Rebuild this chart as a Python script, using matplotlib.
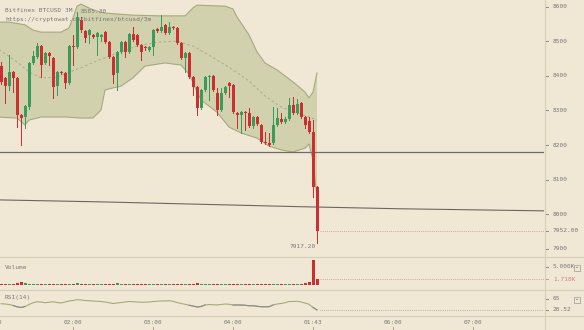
import numpy as np
import matplotlib
matplotlib.use("Agg")
import matplotlib.pyplot as plt
from matplotlib.transforms import blended_transform_factory
from matplotlib.patches import Rectangle

# ---- 3-minute BTCUSD candles (open, high, low, close) ----
opens = [8428, 8394, 8370, 8411, 8394, 8287, 8281, 8310, 8437, 8454,
         8486, 8437, 8466, 8451, 8370, 8411, 8408, 8379, 8486, 8483,
         8561, 8529, 8518, 8518, 8512, 8512, 8526, 8498, 8454, 8408,
         8469, 8498, 8469, 8521, 8518, 8489, 8483, 8474, 8483, 8535,
         8529, 8547, 8523, 8541, 8538, 8495, 8451, 8466, 8396, 8368,
         8307, 8359, 8396, 8399, 8350, 8301, 8350, 8379, 8373, 8293,
         8287, 8295, 8293, 8255, 8281, 8258, 8209, 8206, 8206, 8258,
         8275, 8267, 8275, 8316, 8293, 8321, 8281, 8269, 8238, 8079]
highs = [8440, 8397, 8460, 8414, 8397, 8290, 8316, 8440, 8471, 8495,
         8489, 8469, 8469, 8454, 8414, 8414, 8411, 8489, 8518, 8585.3,
         8570, 8532, 8535, 8521, 8526, 8521, 8529, 8501, 8457, 8472,
         8501, 8501, 8524, 8541, 8521, 8492, 8486, 8486, 8535, 8538,
         8575, 8550, 8555, 8544, 8541, 8498, 8469, 8469, 8399, 8370,
         8362, 8399, 8402, 8402, 8365, 8365, 8371, 8382, 8376, 8296,
         8298, 8298, 8307, 8284, 8284, 8261, 8238, 8235, 8310, 8307,
         8293, 8281, 8336, 8339, 8333, 8324, 8284, 8281, 8272, 8082]
lows = [8375, 8321, 8359, 8353, 8252, 8200, 8249, 8305, 8434, 8451,
        8396, 8434, 8431, 8336, 8345, 8405, 8365, 8376, 8431, 8480,
        8526, 8498, 8495, 8509, 8460, 8500, 8495, 8451, 8379, 8359,
        8466, 8454, 8466, 8500, 8486, 8446, 8474, 8471, 8460, 8526,
        8526, 8520, 8520, 8535, 8492, 8448, 8411, 8393, 8345, 8287,
        8304, 8356, 8330, 8356, 8287, 8298, 8347, 8339, 8292, 8249,
        8235, 8243, 8252, 8249, 8258, 8206, 8203, 8197, 8203, 8255,
        8264, 8264, 8272, 8290, 8290, 8278, 8249, 8235, 8050, 7917.2]
closes = [8382, 8370, 8411, 8394, 8287, 8278, 8313, 8437, 8457, 8486,
          8431, 8466, 8457, 8368, 8411, 8408, 8379, 8486, 8483, 8570,
          8532, 8509, 8532, 8512, 8523, 8518, 8498, 8454, 8402, 8469,
          8498, 8469, 8521, 8503, 8489, 8469, 8480, 8483, 8532, 8529,
          8541, 8523, 8541, 8538, 8495, 8451, 8466, 8396, 8368, 8307,
          8359, 8396, 8399, 8359, 8301, 8350, 8368, 8370, 8295, 8287,
          8295, 8293, 8255, 8281, 8261, 8209, 8206, 8200, 8258, 8278,
          8267, 8275, 8316, 8293, 8319, 8281, 8258, 8238, 8079, 7952]
volumes = [420, 380, 350, 450, 600, 900, 700, 400, 350, 380,
           420, 360, 330, 400, 380, 300, 350, 420, 380, 550,
           450, 380, 350, 320, 330, 300, 350, 400, 450, 600,
           380, 350, 360, 330, 300, 320, 300, 280, 350, 330,
           320, 300, 330, 300, 350, 420, 400, 380, 450, 500,
           420, 380, 350, 400, 450, 420, 380, 350, 400, 420,
           380, 400, 450, 420, 380, 400, 450, 430, 480, 420,
           380, 350, 400, 380, 420, 400, 600, 900, 6900, 1718]
rsi = [45, 44, 42, 38, 33, 30, 34, 42, 49, 53,
       52, 49, 51, 53, 50, 48, 52, 56, 58, 61,
       60, 58, 57, 56, 55, 54, 52, 49, 46, 48,
       50, 52, 54, 53, 52, 51, 51, 52, 54, 55,
       56, 56, 57, 55, 50, 46, 43, 39, 36, 32,
       34, 40, 42, 41, 40, 42, 44, 43, 40, 40,
       40, 39, 37, 37, 35, 33, 33, 33, 40, 44,
       46, 49, 54, 54, 55, 52, 48, 43, 30, 20.52]

# ---- Bollinger band readings (candle index, price) ----
bb_upper_idx = [-1, 2, 6, 8, 10, 15, 17, 18, 19, 20, 23, 26, 33, 40, 46, 48, 49,
                56, 58, 59, 62, 64, 66, 69, 72, 74, 76, 77, 78, 79]
bb_upper = [8555, 8555, 8547, 8532, 8526, 8526, 8538, 8567, 8601, 8607, 8590,
            8581, 8575, 8573, 8573, 8596, 8604, 8601, 8593, 8570, 8518, 8469,
            8437, 8417, 8391, 8373, 8353, 8336, 8353, 8408]
bb_mid_idx = [-1, 4, 7, 10, 14, 19, 24, 29, 34, 39, 44, 48, 51, 54, 58, 62, 66,
              70, 74, 77, 79]
bb_mid = [8480, 8440, 8411, 8394, 8396, 8419, 8443, 8466, 8486, 8497, 8500,
          8486, 8466, 8446, 8417, 8385, 8342, 8310, 8293, 8281, 8272]
bb_lower_idx = [-1, 4, 6, 7, 10, 16, 20, 23, 25, 26, 28, 30, 33, 36, 41, 45, 47,
                50, 54, 57, 60, 64, 67, 70, 73, 76, 77, 78, 79]
bb_lower = [8281, 8278, 8258, 8272, 8281, 8281, 8278, 8278, 8301, 8359, 8365,
            8370, 8394, 8428, 8437, 8431, 8405, 8330, 8295, 8252, 8235, 8220,
            8197, 8186, 8180, 8191, 8203, 8157, 8047]

# long moving average and a horizontal level
ma_idx = [-2, 25, 50, 75, 100, 136]
ma_vals = [8042, 8036, 8029, 8022, 8016, 8010]
level_price = 8181

price_ticks = [8600, 8500, 8400, 8300, 8200, 8100, 8000, 7900]
last_price = 7952.00
high_label, high_idx = 8585.30, 19
low_label, low_idx = 7917.20, 79
vol_ticks = [5000]
last_volume = 1718
rsi_ticks = [65]
time_idx = [-2, 18, 38, 58, 78, 98, 118]
time_labels = ["01:00", "02:00", "03:00", "04:00", "01:43", "06:00", "07:00"]

# ---- figure layout in pixels ----
W, H = 584, 330
fig = plt.figure(figsize=(W / 100, H / 100), dpi=100)
bg = "#f0e8d5"
fig.patch.set_facecolor(bg)
RED, GREEN = "#cc2f2f", "#3c9a5b"
TXT = "#777777"
FONT = dict(family="DejaVu Sans Mono", fontsize=4.4, color=TXT)


def px_axes(x0, y0, x1, y1):
    a = fig.add_axes([x0 / W, 1 - y1 / H, (x1 - x0) / W, (y1 - y0) / H])
    a.set_facecolor(bg)
    for s in a.spines.values():
        s.set_visible(False)
    a.set_xticks([])
    a.set_yticks([])
    a.set_xlim(-0.25, 135.75)
    return a


ax = px_axes(0, 0, 544, 256)
axv = px_axes(0, 257, 544, 289)
axr = px_axes(0, 290, 544, 315)

ax.set_ylim(7879.7, 8618.8)
axv.set_ylim(-1010, 7726)
axr.set_ylim(0, 100)

idx = np.arange(len(closes))
o, h, l, c = map(np.array, (opens, highs, lows, closes))
up = c >= o
cols = np.where(up, GREEN, RED)

# Bollinger band
poly_x = list(bb_upper_idx) + list(bb_lower_idx[::-1])
poly_y = list(bb_upper) + list(bb_lower[::-1])
ax.fill(poly_x, poly_y, color="#d1d1ae", lw=0, zorder=1)
ax.plot(bb_upper_idx, bb_upper, color="#a5a97f", lw=0.8, zorder=2)
ax.plot(bb_lower_idx, bb_lower, color="#a5a97f", lw=0.8, zorder=2)
ax.plot(bb_mid_idx, bb_mid, color="#a9ab8a", lw=0.7, ls=(0, (2.5, 2.5)), zorder=2)

# levels
ax.axhline(level_price, color="#6c6c6c", lw=0.9, zorder=2)
ax.plot(ma_idx, ma_vals, color="#6e6464", lw=0.8, zorder=2)
ax.plot([79.75, 135.75], [last_price, last_price], color="#e39a9a", lw=0.7,
        ls=(0, (1, 1.2)), zorder=2)

# candles: crisp 1px wicks and 3px bodies
ax.vlines(idx, l, h, colors=cols, lw=0.72, zorder=3, antialiased=False)
body_lo = np.minimum(o, c)
body_h = np.maximum(np.abs(c - o), 2.5)
ax.bar(idx, body_h, bottom=body_lo, width=0.75, color=cols, lw=0, zorder=4,
       antialiased=False)

# high / low markers
ax.text(high_idx + 1.0, high_label, f"{high_label:.2f}", ha="left", va="center",
        zorder=5, **FONT)
ax.text(low_idx - 0.2, low_label - 3, f"{low_label:.2f}", ha="right", va="top",
        zorder=5, **FONT)

# header
fig.text(5 / W, 1 - 10 / H, "Bitfinex BTCUSD 3M", ha="left", va="center", **FONT)
fig.text(5 / W, 1 - 20 / H, "https://cryptowat.ch/bitfinex/btcusd/3m", ha="left",
         va="center", **FONT)

# volume
axv.bar(idx, volumes, width=0.75, color=cols, lw=0, antialiased=False)
axv.plot([79.75, 135.75], [last_volume, last_volume], color="#e39a9a", lw=0.7,
         ls=(0, (1, 1.2)))
axv.text(5 / 544, 0.66, "Volume", transform=axv.transAxes, ha="left",
         va="center", **FONT)

# RSI
r = np.array(rsi, dtype=float)
axr.plot(idx, r, color="#a3ab73", lw=0.8)
low_r = np.where(r < 40.5, r, np.nan)
axr.plot(idx, low_r, color="#8c8c8c", lw=0.8)
axr.plot([79.75, 135.75], [rsi[-1], rsi[-1]], color="#a8a890", lw=0.6,
         ls=(0, (1, 1.2)))
axr.text(5 / 544, 0.68, "RSI(14)", transform=axr.transAxes, ha="left",
         va="center", **FONT)


# right-hand scales
def scale_labels(a, values, texts, colors=None):
    tr = blended_transform_factory(fig.transFigure, a.transData)
    for i, (v, t) in enumerate(zip(values, texts)):
        col = colors[i] if colors else TXT
        a.plot([545 / W, 548 / W], [v, v], transform=tr, color=col, lw=0.6,
               clip_on=False)
        a.text(553 / W, v, t, transform=tr, ha="left", va="center",
               clip_on=False, **{**FONT, "color": col})


scale_labels(ax, price_ticks + [last_price],
             [str(p) for p in price_ticks] + [f"{last_price:.2f}"])
scale_labels(axv, vol_ticks + [last_volume],
             [f"{v / 1000:.3f}K" for v in vol_ticks + [last_volume]],
             [TXT, "#d08080"])
scale_labels(axr, rsi_ticks + [rsi[-1]],
             [str(v) for v in rsi_ticks] + [f"{rsi[-1]:.2f}"])

# panel separators and scale border
for yy in (256.5, 289.5, 315.5):
    fig.add_artist(plt.Line2D([0, 1], [1 - yy / H] * 2, color="#d6cdb9", lw=0.8))
fig.add_artist(plt.Line2D([544.5 / W] * 2, [0, 1], color="#d6cdb9", lw=0.8))

# panel buttons
for yc in (267.5, 299.5):
    fig.add_artist(Rectangle((573.5 / W, 1 - (yc + 3) / H), 6 / W, 6 / H,
                             fill=False, ec="#9a9a9a", lw=0.5))
    fig.add_artist(Rectangle((575.7 / W, 1 - (yc + 0.9) / H), 1.8 / W, 1.8 / H,
                             fill=True, color="#9a9a9a", lw=0))

# time axis
trt = blended_transform_factory(ax.transData, fig.transFigure)
for ti, tl in zip(time_idx, time_labels):
    fig.text(ti, 1 - 322 / H, tl, transform=trt, ha="center", va="center",
             **FONT)
    fig.add_artist(plt.Line2D([ti, ti], [1 - 327 / H, 1 - 330 / H], transform=trt,
                              color="#9a9a9a", lw=0.6))

fig.savefig("out.png", dpi=100, facecolor=bg)
